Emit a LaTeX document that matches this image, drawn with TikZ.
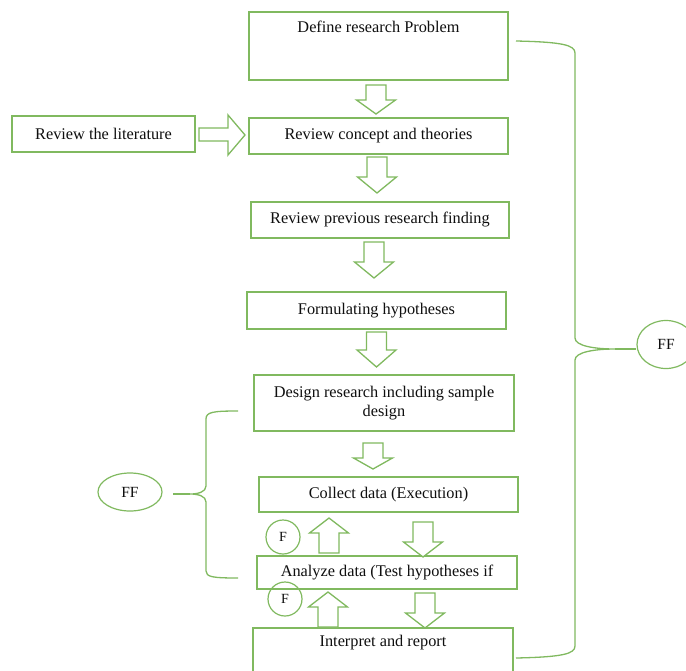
\documentclass[tikz,border=0pt]{standalone}
\usepackage{fontspec}
\setmainfont{Liberation Serif}
\usetikzlibrary{shapes.geometric}
\definecolor{gr}{RGB}{128,185,95}
\definecolor{tx}{RGB}{15,15,15}
\begin{document}
\begin{tikzpicture}[x=1pt,y=-1pt,
  box/.style={draw=gr, line width=1.4pt, fill=white, rectangle, inner sep=0pt,
    text=tx, font=\fontsize{16.3}{20}\selectfont, align=center},
  blk/.style={draw=gr, line width=1.3pt, fill=white, line join=miter},
  brace/.style={draw=gr, line width=1.3pt},
  ell/.style={draw=gr, line width=1.2pt, ellipse, inner sep=0pt, text=tx,
    font=\fontsize{15.5}{18}\selectfont},
  circ/.style={draw=gr, line width=1.2pt, circle, inner sep=0pt, minimum size=34pt,
    text=tx, font=\fontsize{14}{16}\selectfont},
  pics/blkarrow/.style 2 args={code={
    \draw[blk] (-10,0) -- (10,0) -- (10,#1) -- (19.5,#1) -- (0,#1+#2)
      -- (-19.5,#1) -- (-10,#1) -- cycle;}}
]
\useasboundingbox (0,0) rectangle (686,670);

% boxes
\node[box, minimum width=259pt, minimum height=68pt,
  label={[anchor=center, yshift=-16pt, text=tx, font=\fontsize{16.3}{20}\selectfont]north:Define research Problem}]
  (b1) at (378.5,46) {};
\node[box, minimum width=259pt, minimum height=36pt] (b2) at (378.5,136) {Review concept and theories};
\node[box, minimum width=258pt, minimum height=36pt] (b3) at (380,220) {Review previous research finding};
\node[box, minimum width=259pt, minimum height=37pt] (b4) at (376.5,310.5) {Formulating hypotheses};
\node[box, minimum width=260pt, minimum height=56pt] (b5) at (384,403) {\raisebox{3pt}{\begin{tabular}{@{}c@{}}Design research including sample\\[-1pt]design\end{tabular}}};
\node[box, minimum width=259pt, minimum height=35pt] (b6) at (388.5,494.5) {Collect data (Execution)};
\node[box, minimum width=260pt, minimum height=33pt] (b7) at (387,572.5) {Analyze data (Test hypotheses if};
\node[box, minimum width=260pt, minimum height=72pt,
  label={[anchor=center, yshift=-15pt, text=tx, font=\fontsize{16.3}{20}\selectfont]north:Interpret and report}]
  (b8) at (383,664) {};
\node[box, minimum width=183pt, minimum height=36pt] (lit) at (103.5,134) {Review the literature};

% block arrows
\pic at (376,85) {blkarrow={15}{14}};
\pic at (377,157) {blkarrow={20}{16}};
\pic at (374,242) {blkarrow={20}{16}};
\pic at (376.5,332) {blkarrow={18}{17}};
\pic at (373,443) {blkarrow={15}{11}};
\pic at (423,522) {blkarrow={20}{15}};
\pic at (425,593) {blkarrow={20}{15}};
\pic[rotate=180] at (329,553) {blkarrow={20}{15}};
\pic[rotate=180] at (328,627) {blkarrow={20}{15}};
\draw[blk] (199,128) -- (228,128) -- (228,115) -- (245,135) -- (228,155)
  -- (228,141) -- (199,141) -- cycle;

% F circles
\node[circ] (f1) at (283,537) {F};
\node[circ] (f2) at (285,599) {F};

% FF ellipses
\node[ell, minimum width=58pt, minimum height=48pt] (ffR) at (666,344.5) {FF};
\node[ell, minimum width=64pt, minimum height=38pt] (ffL) at (130,492) {FF};

% right brace
\coordinate (tipR) at (615,349);
\draw[brace] (516,41) .. controls (562,42) and (575,45) .. (575,53) -- (575,338)
  .. controls (575,346) and (595,349) .. (tipR)
  .. controls (595,349) and (575,352) .. (575,360) -- (575,646)
  .. controls (575,654) and (562,657) .. (516,658);
\draw[brace] (tipR) -- (ffR.west |- tipR);

% left brace
\coordinate (tipL) at (190,494);
\draw[brace] (238,411) .. controls (213,411) and (206,412) .. (206,419) -- (206,486)
  .. controls (206,492) and (198,494) .. (tipL)
  .. controls (198,494) and (206,496) .. (206,502) -- (206,571)
  .. controls (206,577) and (213,578) .. (238,578);
\draw[brace] (tipL) -- (173,494);
\end{tikzpicture}
\end{document}
